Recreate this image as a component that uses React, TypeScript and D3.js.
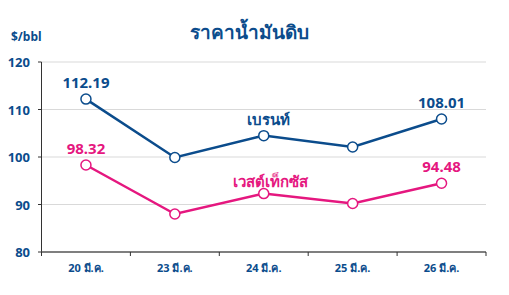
import React from "react";
import * as d3 from "d3";

const categories = ["20 มี.ค.", "23 มี.ค.", "24 มี.ค.", "25 มี.ค.", "26 มี.ค."];
const brent = [112.19, 99.9, 104.5, 102.1, 108.01];
const wti = [98.32, 88.0, 92.3, 90.2, 94.48];
const yTicks = [80, 90, 100, 110, 120];
const brentLabels = ["112.19", "", "", "", "108.01"];
const wtiLabels = ["98.32", "", "", "", "94.48"];

const BLUE = "#0b4c8c";
const PINK = "#e5177f";
const FONT = "'Noto Sans', 'DejaVu Sans', sans-serif";

export default function App() {
  const W = 509, H = 295;
  const x = d3.scaleBand().domain(categories).range([41.5, 486]).padding(0);
  const y = d3.scaleLinear().domain([80, 120]).range([252, 62]);
  const cx = (c: string) => (x(c) as number) + x.bandwidth() / 2;
  const line = d3.line<number>().x((_, i) => cx(categories[i])).y((v) => y(v));

  const series = [
    { vals: brent, color: BLUE, labels: brentLabels, name: "เบรนท์", nx: 268, ny: 125 },
    { vals: wti, color: PINK, labels: wtiLabels, name: "เวสต์เท็กซัส", nx: 270, ny: 187 },
  ];

  return (
    <svg width={W} height={H} style={{ position: "absolute", left: 0, top: 0, fontFamily: FONT }}>
      <rect width={W} height={H} fill="#fff" />
      <text x={249} y={39} textAnchor="middle" fontSize={19} fontWeight="bold" fill={BLUE}>ราคาน้ำมันดิบ</text>
      <text x={11} y={41} fontSize={12} fontWeight="bold" fill={BLUE}>$/bbl</text>
      {yTicks.map((t) => (
        <g key={t}>
          {t !== 80 && <line x1={41.5} x2={486} y1={y(t)} y2={y(t)} stroke="#d9d9d9" strokeWidth={1} />}
          <line x1={38} x2={41.5} y1={y(t)} y2={y(t)} stroke="#333" strokeWidth={1} />
          <text x={30} y={y(t) + 5} textAnchor="end" fontSize={13} fontWeight="bold" fill={BLUE}>{t}</text>
        </g>
      ))}
      <line x1={41.5} x2={41.5} y1={y(120)} y2={y(80)} stroke="#333" strokeWidth={1} />
      <line x1={41.5} x2={486} y1={y(80)} y2={y(80)} stroke="#555" strokeWidth={1.5} />
      {categories.concat([""]).map((_, i) => {
        const xx = 41.5 + i * x.bandwidth();
        return <line key={i} x1={xx} x2={xx} y1={y(80)} y2={y(80) + 4} stroke="#333" strokeWidth={1} />;
      })}
      {categories.map((c) => (
        <text key={c} x={cx(c)} y={272} textAnchor="middle" fontSize={11} fontWeight="bold" fill={BLUE}>{c}</text>
      ))}
      {series.map((s, si) => (
        <g key={si}>
          <path d={line(s.vals) || ""} fill="none" stroke={s.color} strokeWidth={2.5} />
          {s.vals.map((v, i) => (
            <circle key={i} cx={cx(categories[i])} cy={y(v)} r={5} fill="#fff" stroke={s.color} strokeWidth={1.5} />
          ))}
          {s.labels.map((l, i) => l && (
            <text key={i} x={cx(categories[i])} y={y(s.vals[i]) - 11} textAnchor="middle" fontSize={15} fontWeight="bold" fill={s.color}>{l}</text>
          ))}
          <text x={s.nx} y={s.ny} textAnchor="middle" fontSize={15} fontWeight="bold" fill={s.color}>{s.name}</text>
        </g>
      ))}
    </svg>
  );
}
